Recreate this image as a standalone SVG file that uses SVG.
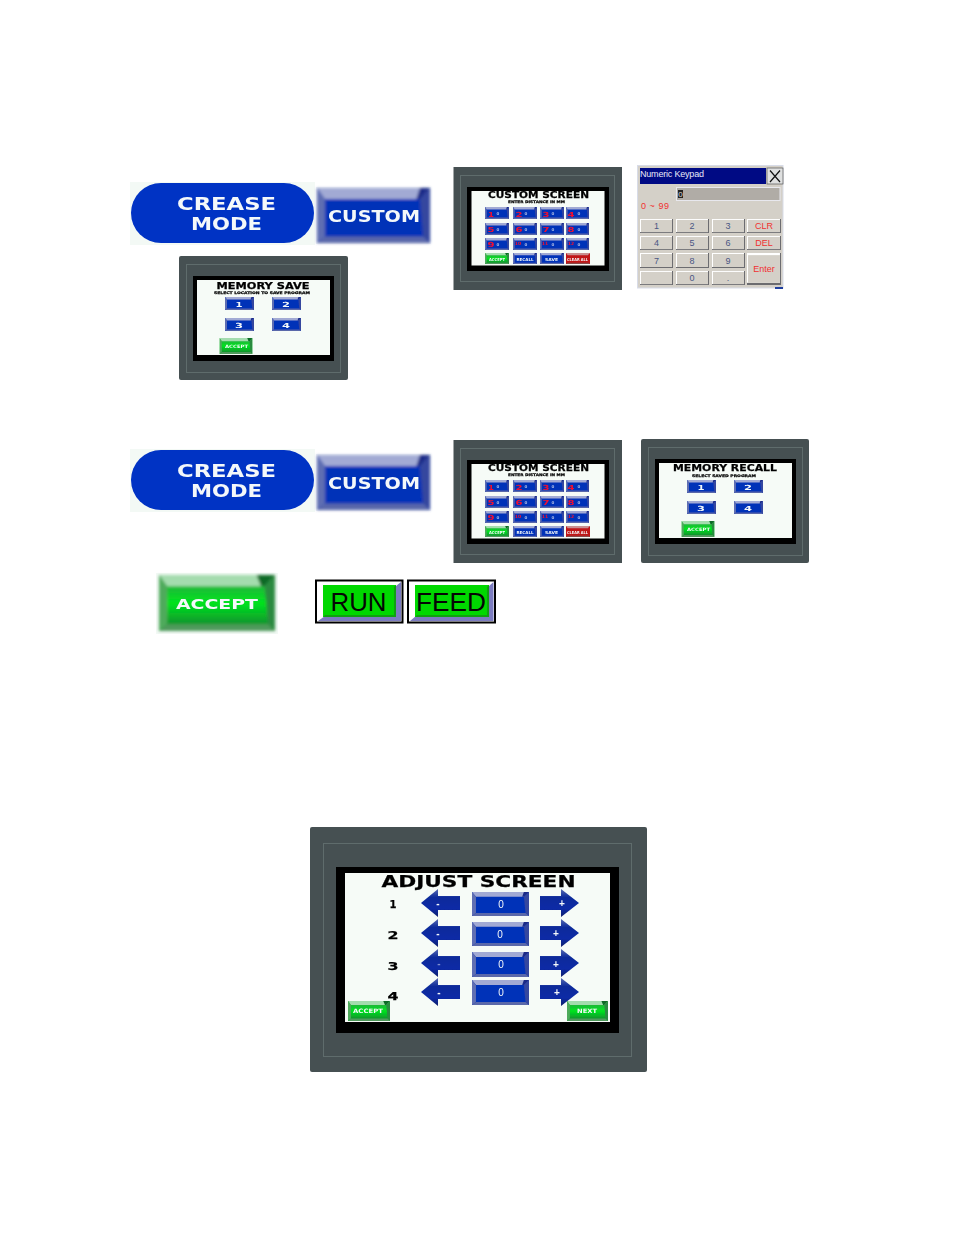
<svg xmlns="http://www.w3.org/2000/svg" width="954" height="1235" viewBox="0 0 954 1235">
<style>
text{font-family:"DejaVu Sans","Liberation Sans",sans-serif;font-weight:bold;text-anchor:middle}
.w{fill:#f4f8fa}.k{fill:#060606;stroke:#060606;stroke-width:.25}.r{fill:#f01030}.z{fill:#aab8e4}
.pn{fill:#465052}.pi{fill:none;stroke:#5f6c6c;stroke-width:1}.bk{fill:#000}.sc{fill:#f6fbf7}
.kt{font-family:"Liberation Sans",sans-serif;font-weight:normal;font-size:9px;fill:#4a5684}
.kr{font-family:"Liberation Sans",sans-serif;font-weight:normal;font-size:9px;fill:#f03030}
.ls{font-family:"Liberation Sans",sans-serif}
.ln{font-family:"Liberation Sans",sans-serif;font-weight:normal}
</style>
<defs>
<filter id="s1" x="-10%" y="-10%" width="120%" height="120%"><feGaussianBlur stdDeviation="0.4"/></filter>
<filter id="s2" filterUnits="userSpaceOnUse" x="0" y="0" width="954" height="1235"><feGaussianBlur stdDeviation="1.5"/></filter>
<linearGradient id="ga" x1="0" y1="0" x2="0" y2="1"><stop offset="0" stop-color="#5a6ab2"/><stop offset=".3" stop-color="#0a2a9a"/><stop offset=".7" stop-color="#0a2aa6"/><stop offset="1" stop-color="#14206c"/></linearGradient>
<linearGradient id="gg" x1="0" y1="0" x2="0" y2="1"><stop offset=".15" stop-color="#22b03c"/><stop offset=".5" stop-color="#00e41e"/><stop offset=".85" stop-color="#0c9a2c"/></linearGradient>
<symbol id="blue" viewBox="0 0 100 100" preserveAspectRatio="none">
<rect width="100" height="100" fill="#0530b8"/>
<polygon points="0,0 100,0 91,20 7,20" fill="#a2aad4"/>
<polygon points="0,0 7,20 7,88 0,100" fill="#5f6eb2"/>
<polygon points="100,0 91,20 94,88 100,100" fill="#35479f"/>
<polygon points="100,0 91,0 88,20 91,20" fill="#1a2c88"/>
<polygon points="0,100 7,88 94,88 100,100" fill="#5a68aa"/>
</symbol>
<symbol id="green" viewBox="0 0 100 100" preserveAspectRatio="none">
<rect width="100" height="100" fill="url(#gg)"/>
<polygon points="0,0 100,0 91,20 7,20" fill="#a4dcae"/>
<polygon points="100,0 84,0 88,20 91,20" fill="#0c6a26"/>
<polygon points="0,0 7,20 7,88 0,100" fill="#4faa5c"/>
<polygon points="100,0 91,20 94,88 100,100" fill="#2c8a40"/>
<polygon points="0,100 7,88 94,88 100,100" fill="#4f9a5c"/>
</symbol>
<symbol id="red" viewBox="0 0 100 100" preserveAspectRatio="none">
<rect width="100" height="100" fill="#c01418"/>
<polygon points="0,0 100,0 91,20 7,20" fill="#c89090"/>
<polygon points="0,100 7,88 94,88 100,100" fill="#8a4a4a"/>
</symbol>
<symbol id="al" viewBox="0 0 39 28" preserveAspectRatio="none"><polygon points="0,14 17,0 17,7 39,7 39,21 17,21 17,28" fill="url(#ga)"/></symbol>
<symbol id="ar" viewBox="0 0 39 28" preserveAspectRatio="none"><polygon points="39,14 21,0 21,7 0,7 0,21 21,21 21,28" fill="url(#ga)"/></symbol>
<symbol id="kb" viewBox="0 0 33 15" preserveAspectRatio="none"><rect width="33" height="15" fill="#6c6c70"/><rect width="32" height="14" fill="#fff"/><rect x="1" y="1" width="31" height="13" fill="#d4d0c8"/></symbol>
</defs>

<g id="connectors"/>

<g id="crease-mode-1">
<rect x="130" y="182" width="185" height="63" fill="#f3f9f5"/>
<rect x="131" y="183" width="183" height="60" rx="30" fill="#0033c4"/>
<text class="w" filter="url(#s1)" x="226.500" y="210" font-size="17" textLength="99" lengthAdjust="spacingAndGlyphs">CREASE</text>
<text class="w" filter="url(#s1)" x="226.500" y="230" font-size="17" textLength="71" lengthAdjust="spacingAndGlyphs">MODE</text>
</g>
<g id="custom-1">
<rect x="316" y="187" width="115" height="57" fill="#eef2f6"/>
<g filter="url(#s2)"><use href="#blue" x="317" y="188" width="113" height="55"/></g>
<text class="w" filter="url(#s1)" x="374" y="222" font-size="15" textLength="92" lengthAdjust="spacingAndGlyphs">CUSTOM</text>
</g>

<g id="memory-save">
<rect class="pn" x="179" y="256" width="169" height="124" rx="2"/>
<rect class="pi" x="186.500" y="264.500" width="154" height="108"/>
<rect class="bk" x="193" y="276" width="141" height="85"/>
<rect class="sc" x="197" y="280" width="133" height="75"/>
<text class="k" filter="url(#s1)" x="263" y="288.500" font-size="8.500" textLength="93" lengthAdjust="spacingAndGlyphs">MEMORY SAVE</text>
<text class="k" filter="url(#s1)" x="262" y="293.500" font-size="3.500" textLength="96" lengthAdjust="spacingAndGlyphs">SELECT LOCATION TO SAVE PROGRAM</text>
<g filter="url(#s1)">
<use href="#blue" x="225" y="297" width="29" height="13"/><use href="#blue" x="272" y="297" width="29" height="13"/>
<use href="#blue" x="225" y="318" width="29" height="13"/><use href="#blue" x="272" y="318" width="29" height="13"/>
<use href="#green" x="219.500" y="338" width="33" height="16"/>
</g>
<g filter="url(#s1)">
<text class="w" x="239" y="306.500" font-size="7" textLength="7" lengthAdjust="spacingAndGlyphs">1</text><text class="w" x="286" y="306.500" font-size="7" textLength="8" lengthAdjust="spacingAndGlyphs">2</text>
<text class="w" x="239" y="327.500" font-size="7" textLength="8" lengthAdjust="spacingAndGlyphs">3</text><text class="w" x="286" y="327.500" font-size="7" textLength="8" lengthAdjust="spacingAndGlyphs">4</text>
<text class="w" x="236.500" y="348" font-size="4.500" textLength="23" lengthAdjust="spacingAndGlyphs">ACCEPT</text>
</g>
</g>

<g id="custom-screen-1">
<rect class="pn" x="453.500" y="167" width="168.500" height="123"/>
<rect class="pi" x="460.500" y="175.500" width="154" height="106"/>
<rect class="bk" x="467" y="187" width="142" height="84"/>
<rect class="sc" x="471.500" y="191" width="133" height="74.500"/>
<text class="k" filter="url(#s1)" x="538.500" y="198" font-size="8.500" textLength="101" lengthAdjust="spacingAndGlyphs">CUSTOM SCREEN</text>
<text class="k" filter="url(#s1)" x="536.500" y="203" font-size="3.500" textLength="57" lengthAdjust="spacingAndGlyphs">ENTER DISTANCE IN MM</text>
<g filter="url(#s1)">
<use href="#blue" x="485" y="207" width="24" height="12"/><use href="#blue" x="513" y="207" width="24" height="12"/><use href="#blue" x="540" y="207" width="24" height="12"/><use href="#blue" x="566" y="207" width="23" height="12"/>
<use href="#blue" x="485" y="223" width="24" height="12"/><use href="#blue" x="513" y="223" width="24" height="12"/><use href="#blue" x="540" y="223" width="24" height="12"/><use href="#blue" x="566" y="223" width="23" height="12"/>
<use href="#blue" x="485" y="238" width="24" height="12"/><use href="#blue" x="513" y="238" width="24" height="12"/><use href="#blue" x="540" y="238" width="24" height="12"/><use href="#blue" x="566" y="238" width="23" height="12"/>
<use href="#green" x="485" y="253" width="24" height="11"/><use href="#blue" x="513" y="253" width="24" height="11"/><use href="#blue" x="540" y="253" width="24" height="11"/><use href="#red" x="566" y="253" width="24" height="11"/>
</g>
<g filter="url(#s1)">
<text class="r" x="491" y="216.500" font-size="7" textLength="6" lengthAdjust="spacingAndGlyphs">1</text><text class="r" x="519" y="216.500" font-size="7" textLength="7" lengthAdjust="spacingAndGlyphs">2</text><text class="r" x="546" y="216.500" font-size="7" textLength="7" lengthAdjust="spacingAndGlyphs">3</text><text class="r" x="571" y="216.500" font-size="7" textLength="7" lengthAdjust="spacingAndGlyphs">4</text>
<text class="r" x="491" y="232" font-size="7" textLength="7" lengthAdjust="spacingAndGlyphs">5</text><text class="r" x="519" y="232" font-size="7" textLength="7" lengthAdjust="spacingAndGlyphs">6</text><text class="r" x="546" y="232" font-size="7" textLength="7" lengthAdjust="spacingAndGlyphs">7</text><text class="r" x="571" y="232" font-size="7" textLength="7" lengthAdjust="spacingAndGlyphs">8</text>
<text class="r" x="491" y="247" font-size="7" textLength="7" lengthAdjust="spacingAndGlyphs">9</text><text class="r" x="518" y="245" font-size="4.500">10</text><text class="r" x="545" y="245" font-size="4.500">11</text><text class="r" x="571" y="245" font-size="4.500">12</text>
<text class="z" x="498" y="215" font-size="4">0</text><text class="z" x="526" y="215" font-size="4">0</text><text class="z" x="553" y="215" font-size="4">0</text><text class="z" x="579" y="215" font-size="4">0</text>
<text class="z" x="498" y="231" font-size="4">0</text><text class="z" x="526" y="231" font-size="4">0</text><text class="z" x="553" y="231" font-size="4">0</text><text class="z" x="579" y="231" font-size="4">0</text>
<text class="z" x="498" y="246" font-size="4">0</text><text class="z" x="526" y="246" font-size="4">0</text><text class="z" x="553" y="246" font-size="4">0</text><text class="z" x="579" y="246" font-size="4">0</text>
<text class="w" x="497" y="260.500" font-size="4" textLength="16" lengthAdjust="spacingAndGlyphs">ACCEPT</text>
<text class="w" x="525" y="260.500" font-size="4" textLength="17" lengthAdjust="spacingAndGlyphs">RECALL</text>
<text class="w" x="551.500" y="260.500" font-size="4" textLength="13" lengthAdjust="spacingAndGlyphs">SAVE</text>
<text class="w" x="577.500" y="260.500" font-size="4" textLength="21" lengthAdjust="spacingAndGlyphs">CLEAR ALL</text>
</g>
</g>

<g id="numeric-keypad">
<rect x="637.500" y="165.500" width="145.500" height="122.500" fill="#d4d0c8" stroke="#d8dce8" stroke-width="1"/>
<rect x="775" y="287" width="8" height="2" fill="#2040a0"/>
<rect x="640" y="168" width="126" height="16" fill="#000a84"/>
<text x="640" y="177" font-size="9" style="font-family:'Liberation Sans',sans-serif;font-weight:normal;text-anchor:start;fill:#e8e8f8" textLength="64">Numeric Keypad</text>
<rect x="767" y="168" width="16" height="16" fill="#dfe0e0" stroke="#555" stroke-width=".7"/>
<path d="M770 170.500 780 182M780 170.500 770 182" stroke="#111" stroke-width="1.200" fill="none"/>
<rect x="676.500" y="187.500" width="103.500" height="13" fill="#b0aca6" stroke="#e8e8ee" stroke-width="1"/>
<rect x="678" y="190" width="5" height="8" fill="#222"/>
<text x="680.500" y="197" font-size="8" style="font-family:'Liberation Sans',sans-serif;font-weight:normal;fill:#ddd">0</text>
<text class="kr" x="641" y="209" style="text-anchor:start" textLength="28">0 ~ 99</text>
<use href="#kb" x="640" y="219" width="33" height="14"/><use href="#kb" x="676" y="219" width="33" height="14"/><use href="#kb" x="712" y="219" width="33" height="14"/><use href="#kb" x="747" y="219" width="34" height="14"/>
<use href="#kb" x="640" y="236" width="33" height="14"/><use href="#kb" x="676" y="236" width="33" height="14"/><use href="#kb" x="712" y="236" width="33" height="14"/><use href="#kb" x="747" y="236" width="34" height="14"/>
<use href="#kb" x="640" y="253" width="33" height="15"/><use href="#kb" x="676" y="253" width="33" height="15"/><use href="#kb" x="712" y="253" width="33" height="15"/><use href="#kb" x="747" y="253" width="34" height="32"/>
<use href="#kb" x="640" y="271" width="33" height="14"/><use href="#kb" x="676" y="271" width="33" height="14"/><use href="#kb" x="712" y="271" width="33" height="14"/>
<text class="kt" x="656.500" y="229">1</text><text class="kt" x="692" y="229">2</text><text class="kt" x="728" y="229">3</text><text class="kr" x="764" y="229">CLR</text>
<text class="kt" x="656.500" y="246">4</text><text class="kt" x="692" y="246">5</text><text class="kt" x="728" y="246">6</text><text class="kr" x="764" y="246">DEL</text>
<text class="kt" x="656.500" y="264">7</text><text class="kt" x="692" y="264">8</text><text class="kt" x="728" y="264">9</text><text class="kr" x="764" y="272">Enter</text>
<text class="kt" x="692" y="281">0</text><text class="kt" x="728" y="281">.</text>
</g>

<g id="crease-mode-2">
<rect x="130" y="449" width="185" height="63" fill="#f3f9f5"/>
<rect x="131" y="450" width="183" height="60" rx="30" fill="#0033c4"/>
<text class="w" filter="url(#s1)" x="226.500" y="477" font-size="17" textLength="99" lengthAdjust="spacingAndGlyphs">CREASE</text>
<text class="w" filter="url(#s1)" x="226.500" y="497" font-size="17" textLength="71" lengthAdjust="spacingAndGlyphs">MODE</text>
</g>
<g id="custom-2">
<rect x="316" y="454" width="115" height="57" fill="#eef2f6"/>
<g filter="url(#s2)"><use href="#blue" x="317" y="455" width="113" height="55"/></g>
<text class="w" filter="url(#s1)" x="374" y="489" font-size="15" textLength="92" lengthAdjust="spacingAndGlyphs">CUSTOM</text>
</g>

<g id="custom-screen-2">
<rect class="pn" x="453.500" y="440" width="168.500" height="123"/>
<rect class="pi" x="460.500" y="448.500" width="154" height="106"/>
<rect class="bk" x="467" y="460" width="142" height="84"/>
<rect class="sc" x="471.500" y="464" width="133" height="74.500"/>
<text class="k" filter="url(#s1)" x="538.500" y="471" font-size="8.500" textLength="101" lengthAdjust="spacingAndGlyphs">CUSTOM SCREEN</text>
<text class="k" filter="url(#s1)" x="536.500" y="476" font-size="3.500" textLength="57" lengthAdjust="spacingAndGlyphs">ENTER DISTANCE IN MM</text>
<g filter="url(#s1)">
<use href="#blue" x="485" y="480" width="24" height="12"/><use href="#blue" x="513" y="480" width="24" height="12"/><use href="#blue" x="540" y="480" width="24" height="12"/><use href="#blue" x="566" y="480" width="23" height="12"/>
<use href="#blue" x="485" y="496" width="24" height="12"/><use href="#blue" x="513" y="496" width="24" height="12"/><use href="#blue" x="540" y="496" width="24" height="12"/><use href="#blue" x="566" y="496" width="23" height="12"/>
<use href="#blue" x="485" y="511" width="24" height="12"/><use href="#blue" x="513" y="511" width="24" height="12"/><use href="#blue" x="540" y="511" width="24" height="12"/><use href="#blue" x="566" y="511" width="23" height="12"/>
<use href="#green" x="485" y="526" width="24" height="11"/><use href="#blue" x="513" y="526" width="24" height="11"/><use href="#blue" x="540" y="526" width="24" height="11"/><use href="#red" x="566" y="526" width="24" height="11"/>
</g>
<g filter="url(#s1)">
<text class="r" x="491" y="489.500" font-size="7" textLength="6" lengthAdjust="spacingAndGlyphs">1</text><text class="r" x="519" y="489.500" font-size="7" textLength="7" lengthAdjust="spacingAndGlyphs">2</text><text class="r" x="546" y="489.500" font-size="7" textLength="7" lengthAdjust="spacingAndGlyphs">3</text><text class="r" x="571" y="489.500" font-size="7" textLength="7" lengthAdjust="spacingAndGlyphs">4</text>
<text class="r" x="491" y="505" font-size="7" textLength="7" lengthAdjust="spacingAndGlyphs">5</text><text class="r" x="519" y="505" font-size="7" textLength="7" lengthAdjust="spacingAndGlyphs">6</text><text class="r" x="546" y="505" font-size="7" textLength="7" lengthAdjust="spacingAndGlyphs">7</text><text class="r" x="571" y="505" font-size="7" textLength="7" lengthAdjust="spacingAndGlyphs">8</text>
<text class="r" x="491" y="520" font-size="7" textLength="7" lengthAdjust="spacingAndGlyphs">9</text><text class="r" x="518" y="518" font-size="4.500">10</text><text class="r" x="545" y="518" font-size="4.500">11</text><text class="r" x="571" y="518" font-size="4.500">12</text>
<text class="z" x="498" y="488" font-size="4">0</text><text class="z" x="526" y="488" font-size="4">0</text><text class="z" x="553" y="488" font-size="4">0</text><text class="z" x="579" y="488" font-size="4">0</text>
<text class="z" x="498" y="504" font-size="4">0</text><text class="z" x="526" y="504" font-size="4">0</text><text class="z" x="553" y="504" font-size="4">0</text><text class="z" x="579" y="504" font-size="4">0</text>
<text class="z" x="498" y="519" font-size="4">0</text><text class="z" x="526" y="519" font-size="4">0</text><text class="z" x="553" y="519" font-size="4">0</text><text class="z" x="579" y="519" font-size="4">0</text>
<text class="w" x="497" y="533.500" font-size="4" textLength="16" lengthAdjust="spacingAndGlyphs">ACCEPT</text>
<text class="w" x="525" y="533.500" font-size="4" textLength="17" lengthAdjust="spacingAndGlyphs">RECALL</text>
<text class="w" x="551.500" y="533.500" font-size="4" textLength="13" lengthAdjust="spacingAndGlyphs">SAVE</text>
<text class="w" x="577.500" y="533.500" font-size="4" textLength="21" lengthAdjust="spacingAndGlyphs">CLEAR ALL</text>
</g>
</g>

<g id="memory-recall">
<rect class="pn" x="641" y="439" width="168" height="124" rx="2"/>
<rect class="pi" x="648.500" y="447.500" width="154" height="108"/>
<rect class="bk" x="655" y="459" width="141" height="85"/>
<rect class="sc" x="659" y="463" width="133" height="75"/>
<text class="k" filter="url(#s1)" x="725" y="470.500" font-size="9" textLength="104" lengthAdjust="spacingAndGlyphs">MEMORY RECALL</text>
<text class="k" filter="url(#s1)" x="724" y="476.500" font-size="3.500" textLength="64" lengthAdjust="spacingAndGlyphs">SELECT SAVED PROGRAM</text>
<g filter="url(#s1)">
<use href="#blue" x="687" y="480" width="29" height="13"/><use href="#blue" x="734" y="480" width="29" height="13"/>
<use href="#blue" x="687" y="501" width="29" height="13"/><use href="#blue" x="734" y="501" width="29" height="13"/>
<use href="#green" x="681.500" y="521" width="33" height="16"/>
</g>
<g filter="url(#s1)">
<text class="w" x="701" y="489.500" font-size="7" textLength="7" lengthAdjust="spacingAndGlyphs">1</text><text class="w" x="748" y="489.500" font-size="7" textLength="8" lengthAdjust="spacingAndGlyphs">2</text>
<text class="w" x="701" y="510.500" font-size="7" textLength="8" lengthAdjust="spacingAndGlyphs">3</text><text class="w" x="748" y="510.500" font-size="7" textLength="8" lengthAdjust="spacingAndGlyphs">4</text>
<text class="w" x="698.500" y="531" font-size="4.500" textLength="23" lengthAdjust="spacingAndGlyphs">ACCEPT</text>
</g>
</g>

<g id="accept-large">
<rect x="156" y="573" width="122" height="61" fill="#f3f9f5"/>
<g filter="url(#s2)"><use href="#green" x="159" y="575" width="116" height="56"/></g>
<text class="w" filter="url(#s1)" x="217" y="609" font-size="13.500" textLength="82" lengthAdjust="spacingAndGlyphs">ACCEPT</text>
</g>

<g id="run">
<rect x="316" y="580.500" width="86.500" height="42" fill="#fff" stroke="#000" stroke-width="2"/>
<polygon points="401,582 401,621 318,621 325,616 396,616 396,586" fill="#7c7cc0"/>
<rect x="323" y="585" width="73" height="32" fill="#00d800"/>
<polygon points="396,585 396,617 323,617 325,615 394,615 394,587" fill="#10a010"/>
<text x="358.500" y="610.500" font-size="25.500" style="font-family:'Liberation Sans',sans-serif;font-weight:normal;fill:#050505" textLength="56" lengthAdjust="spacingAndGlyphs">RUN</text>
</g>
<g id="feed">
<rect x="408" y="580.500" width="87" height="42" fill="#fff" stroke="#000" stroke-width="2"/>
<polygon points="493.500,582 493.500,621 410,621 416,616 489,616 489,586" fill="#7c7cc0"/>
<rect x="415" y="585" width="74" height="32" fill="#00d800"/>
<polygon points="489,585 489,617 415,617 417,615 487,615 487,587" fill="#10a010"/>
<text x="451" y="610.500" font-size="25.500" style="font-family:'Liberation Sans',sans-serif;font-weight:normal;fill:#050505" textLength="70" lengthAdjust="spacingAndGlyphs">FEED</text>
</g>

<g id="adjust-screen">
<rect class="pn" x="310" y="827" width="337" height="245" rx="2"/>
<rect class="pi" x="323.500" y="843.500" width="308" height="213"/>
<rect class="bk" x="336" y="867" width="283" height="166"/>
<rect class="sc" x="345" y="873" width="265" height="149"/>
<text class="k" filter="url(#s1)" x="478.500" y="887" font-size="16" textLength="194" lengthAdjust="spacingAndGlyphs">ADJUST SCREEN</text>
<text class="k" filter="url(#s1)" x="393" y="908" font-size="11" textLength="7" lengthAdjust="spacingAndGlyphs">1</text>
<text class="k" filter="url(#s1)" x="393" y="938.500" font-size="11" textLength="11" lengthAdjust="spacingAndGlyphs">2</text>
<text class="k" filter="url(#s1)" x="393" y="970" font-size="11" textLength="11" lengthAdjust="spacingAndGlyphs">3</text>
<text class="k" filter="url(#s1)" x="393" y="1000" font-size="11" textLength="11" lengthAdjust="spacingAndGlyphs">4</text>
<g filter="url(#s1)">
<use href="#al" x="421" y="889" width="39" height="28"/><use href="#al" x="421" y="919" width="39" height="28"/><use href="#al" x="421" y="949" width="39" height="28"/><use href="#al" x="421" y="978" width="39" height="28"/>
<use href="#ar" x="540" y="889" width="39" height="28"/><use href="#ar" x="540" y="919" width="39" height="28"/><use href="#ar" x="540" y="949" width="39" height="28"/><use href="#ar" x="540" y="978" width="39" height="28"/>
<use href="#blue" x="472" y="892" width="57" height="24"/><use href="#blue" x="472" y="922" width="57" height="24"/><use href="#blue" x="472" y="952" width="57" height="25"/><use href="#blue" x="472" y="980" width="57" height="25"/>
<use href="#green" x="348" y="1001" width="42" height="20"/><use href="#green" x="567" y="1001" width="41" height="20"/>
</g>
<g style="font-size:10px">
<text class="w ls" x="438" y="907">-</text>
<text class="w ls" x="438" y="937">-</text>
<text class="ls" x="439" y="967" fill="#8090d0">-</text>
<text class="w ls" x="439" y="996">-</text>
<text class="w ls" x="562" y="906.500">+</text>
<text class="w ls" x="556" y="936.500">+</text>
<text class="w ls" x="556" y="967.500">+</text>
<text class="w ls" x="557" y="995.500">+</text>
<text class="w ln" x="501" y="907.500">0</text>
<text class="w ln" x="500" y="938">0</text>
<text class="w ln" x="501" y="968">0</text>
<text class="w ln" x="501" y="995.500">0</text>
</g>
<text class="w" filter="url(#s1)" x="368" y="1013" font-size="6" textLength="30" lengthAdjust="spacingAndGlyphs">ACCEPT</text>
<text class="w" filter="url(#s1)" x="587" y="1013" font-size="6" textLength="20" lengthAdjust="spacingAndGlyphs">NEXT</text>
</g>
</svg>
